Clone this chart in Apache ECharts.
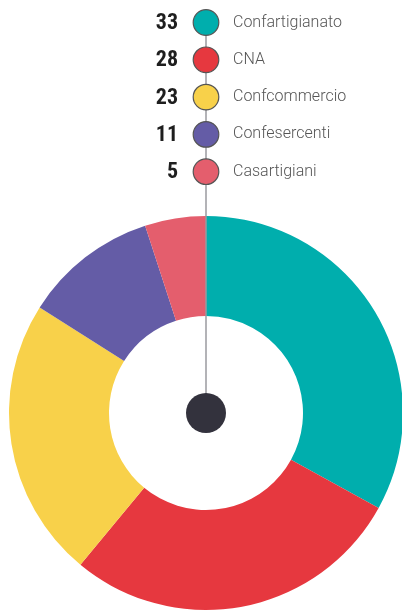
<!DOCTYPE html>
<html><head><meta charset="utf-8">
<script src="https://cdn.jsdelivr.net/npm/echarts@6/dist/echarts.min.js"></script>
<style>html,body{margin:0;padding:0;background:#fff}#c{width:402px;height:613px}</style>
</head><body><div id="c"></div>
<script>
const categories = ['Confartigianato', 'CNA', 'Confcommercio', 'Confesercenti', 'Casartigiani'];
const values = [33, 28, 23, 11, 5];
const colors = ['#00AEAD', '#E6383F', '#F8D14A', '#645CA6', '#E45E6D'];

const cx = 206, cy = 413;
const legendTop = 22.5, legendStep = 37.3;

const graphics = [];
graphics.push({
  type: 'line', z: 10,
  shape: { x1: cx, y1: legendTop, x2: cx, y2: cy },
  style: { stroke: '#9a9a9f', lineWidth: 1.5 }
});
graphics.push({
  type: 'circle', z: 11,
  shape: { cx: cx, cy: cy, r: 20 },
  style: { fill: '#33323D' }
});
categories.forEach((name, i) => {
  const y = legendTop + i * legendStep;
  graphics.push({
    type: 'circle', z: 12,
    shape: { cx: cx, cy: y, r: 12.8 },
    style: { fill: colors[i], stroke: '#555', lineWidth: 1.2 }
  });
  graphics.push({
    type: 'text', z: 12, x: 178, y: y + 1,
    style: {
      text: String(values[i]), align: 'right', verticalAlign: 'middle',
      fontFamily: '"Liberation Sans Narrow", "Roboto Condensed", Roboto, sans-serif',
      fontWeight: 'bold', fontSize: 22, fill: '#1e1e1e'
    }
  });
  graphics.push({
    type: 'text', z: 12, x: 233, y: y,
    style: {
      text: name, align: 'left', verticalAlign: 'middle',
      fontFamily: 'Roboto, sans-serif', fontWeight: 300, fontSize: 16, fill: '#555'
    }
  });
});

const chart = echarts.init(document.getElementById('c'));
chart.setOption({
  animation: false,
  backgroundColor: '#fff',
  series: [{
    type: 'pie',
    center: [cx, cy],
    radius: [97, 197],
    startAngle: 90,
    clockwise: true,
    label: { show: false },
    labelLine: { show: false },
    silent: true,
    data: categories.map((n, i) => ({ name: n, value: values[i], itemStyle: { color: colors[i] } }))
  }],
  graphic: graphics
});
</script></body></html>
